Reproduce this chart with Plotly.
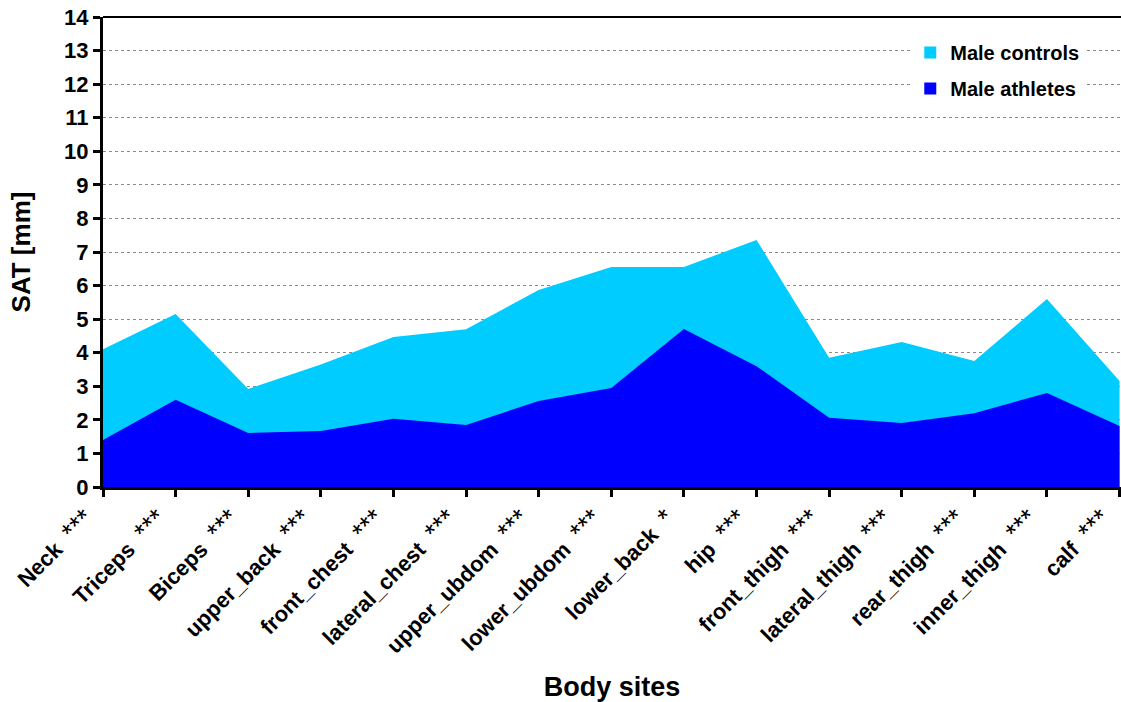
import plotly.graph_objects as go

sites = ["Neck", "Triceps", "Biceps", "upper_back", "front_chest", "lateral_chest",
         "upper_ubdom", "lower_ubdom", "lower_back", "hip", "front_thigh",
         "lateral_thigh", "rear_thigh", "inner_thigh", "calf"]
significance = ["***", "***", "***", "***", "***", "***", "***", "***", "*",
                "***", "***", "***", "***", "***", "***"]
male_controls = [4.1, 5.15, 2.92, 3.65, 4.47, 4.7, 5.87, 6.55, 6.55, 7.36,
                 3.85, 4.32, 3.75, 5.6, 3.16]
male_athletes = [1.4, 2.6, 1.61, 1.67, 2.03, 1.85, 2.56, 2.95, 4.71, 3.6,
                 2.06, 1.91, 2.2, 2.8, 1.82]

CYAN = "#00CCFF"
BLUE = "#0000FF"
FONT = "Arial, Liberation Sans, sans-serif"

x = list(range(len(sites)))
tick_text = [f"<b>{s}</b>\u00a0\u00a0<span style='font-size:27px'>{sig}</span>"
             for s, sig in zip(sites, significance)]

fig = go.Figure()
fig.add_trace(go.Scatter(x=x, y=male_controls, mode="lines", fill="tozeroy",
                         line=dict(width=0, color=CYAN), fillcolor=CYAN,
                         showlegend=False, hoverinfo="skip"))
fig.add_trace(go.Scatter(x=x, y=male_athletes, mode="lines", fill="tozeroy",
                         line=dict(width=0, color=BLUE), fillcolor=BLUE,
                         showlegend=False, hoverinfo="skip"))
# legend entries as square swatches
fig.add_trace(go.Scatter(x=[None], y=[None], mode="markers", name="<b>Male controls</b>",
                         legendgroup="c",
                         marker=dict(symbol="square", size=12, color=CYAN)))
fig.add_trace(go.Scatter(x=[None], y=[None], mode="markers", name="<b>Male athletes</b>",
                         legendgroup="a",
                         marker=dict(symbol="square", size=12, color=BLUE)))

fig.update_layout(
    width=1121, height=702,
    margin=dict(l=103, r=0, t=17, b=215),
    paper_bgcolor="white", plot_bgcolor="white",
    font=dict(family=FONT, color="black"),
    legend=dict(x=0.793, y=0.966, xanchor="left", yanchor="top",
                bgcolor="white", font=dict(size=20, family=FONT),
                itemsizing="constant", tracegroupgap=7,
                traceorder="grouped"),
    xaxis=dict(
        range=[0, 14.02], tickmode="array", tickvals=x, ticktext=tick_text,
        tickangle=-45, tickfont=dict(size=22, family=FONT),
        ticklabelshift=-16, ticklabeloverflow="allow",
        ticks="outside", ticklen=7, tickwidth=3, tickcolor="black",
        showline=True, linecolor="black", linewidth=3, mirror=False,
        showgrid=False, zeroline=False,
        title=dict(text="<b>Body sites</b>", font=dict(size=27, family=FONT), standoff=22),
    ),
    yaxis=dict(
        range=[0, 14], dtick=1, tickfont=dict(size=22, family=FONT),
        tickprefix="<b>", ticksuffix="</b>",
        ticks="outside", ticklen=7, tickwidth=3, tickcolor="black",
        showline=True, linecolor="black", linewidth=3,
        showgrid=True, gridcolor="#8a8a8a", griddash="dot", gridwidth=1,
        zeroline=False,
        title=dict(text="<b>SAT [mm]</b>", font=dict(size=26, family=FONT), standoff=27),
    ),
)
# top frame line
fig.add_shape(type="line", xref="paper", yref="paper", x0=0, x1=1, y0=1, y1=1,
              line=dict(color="black", width=2))

fig.write_html("out.html")
